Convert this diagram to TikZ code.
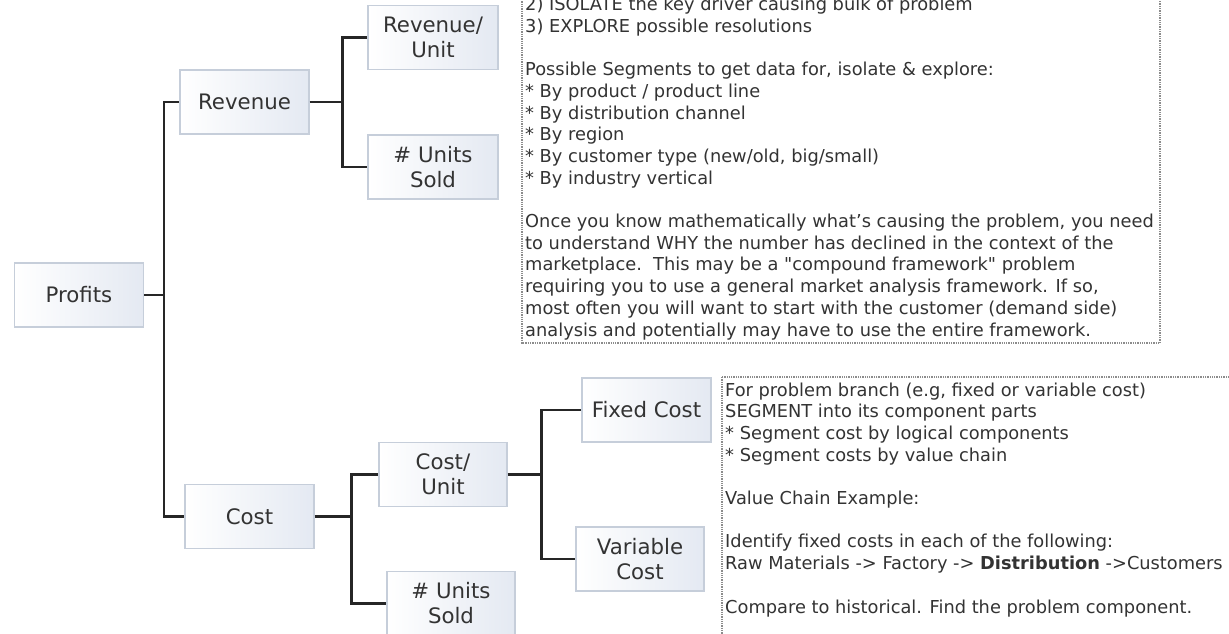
\documentclass[tikz,border=0pt]{standalone}
\usepackage{fontspec}
\setmainfont{DejaVu Sans}
\usetikzlibrary{positioning}
\definecolor{boxline}{HTML}{C6CEDA}
\definecolor{boxbg}{HTML}{E4E9F2}
\definecolor{inkc}{HTML}{333333}
\definecolor{wirec}{HTML}{262626}
\definecolor{dotc}{HTML}{8C8C8C}
\tikzset{
  box/.style={draw=boxline,line width=1.2pt,left color=white,right color=boxbg,minimum width=129pt,minimum height=64pt,inner sep=0pt,align=center,text=inkc,font=\fontsize{21.3}{25}\selectfont},
  ln/.style={wirec,line width=2.4pt},
  note/.style={anchor=base west,align=left,inner sep=0pt,text=inkc,font=\fontsize{17.8}{21.7}\selectfont},
  frame/.style={dotc,densely dotted,line width=1.3pt}
}
\begin{document}
\begin{tikzpicture}[x=1pt,y=-1pt]
\path[use as bounding box,fill=white] (0,0) rectangle (1229,633);
% tree boxes
\node[box] (profits) at (79,295) {Profits};
\node[box] (revenue) at (244.5,102) {Revenue};
\node[box,minimum width=130pt] (revunit) at (433,37.5) {Revenue/\\Unit};
\node[box,minimum width=130pt] (unitsA) at (433,167) {\# Units\\Sold};
\node[box] (cost) at (249.5,516.5) {Cost};
\node[box,minimum width=128pt] (costunit) at (443,474.5) {Cost/\\Unit};
\node[box,minimum width=128pt] (unitsB) at (451,603.5) {\# Units\\Sold};
\node[box] (fixed) at (646.5,410) {Fixed Cost};
\node[box,minimum width=128pt] (variable) at (640,559) {Variable\\Cost};
% connectors
\draw[ln] (profits.east) -- ++(20,0) coordinate (pj) |- (revenue);
\draw[ln] (pj) |- (cost);
\draw[ln] (revenue.east) -- ++(33,0) coordinate (rj) |- (revunit);
\draw[ln] (rj) |- (unitsA);
\draw[ln] (cost.east) -- ++(37,0) coordinate (cj) |- (costunit);
\draw[ln] (cj) |- (unitsB);
\draw[ln] (costunit.east) -- ++(34,0) coordinate (uj) |- (fixed);
\draw[ln] (uj) |- (variable);
% notes (base = last line)
\draw[frame] (522,-40) rectangle (1160,343);
\node[note] (segtext) at (525,336) {2) ISOLATE the key driver causing bulk of problem\\
3) EXPLORE possible resolutions\\[21.7pt]
Possible Segments to get data for, isolate \& explore:\\
* By product / product line\\
* By distribution channel\\
* By region\\
* By customer type (new/old, big/small)\\
* By industry vertical\\[21.7pt]
Once you know mathematically what's causing the problem, you need\\
to understand WHY the number has declined in the context of the\\
marketplace.\ \ This may be a \textquotedbl compound framework\textquotedbl\ problem\\
requiring you to use a general market analysis framework. If so,\\
most often you will want to start with the customer (demand side)\\
analysis and potentially may have to use the entire framework.};
\draw[frame] (722,377) rectangle (1240,660);
\node[note] (chaintext) at (725,613) {For problem branch (e.g, fixed or variable cost)\\
SEGMENT into its component parts\\
* Segment cost by logical components\\
* Segment costs by value chain\\[21.7pt]
Value Chain Example:\\[21.7pt]
Identify fixed costs in each of the following:\\
Raw Materials -> Factory -> \textbf{Distribution} ->Customers\\[21.7pt]
Compare to historical. Find the problem component.};
\end{tikzpicture}
\end{document}
